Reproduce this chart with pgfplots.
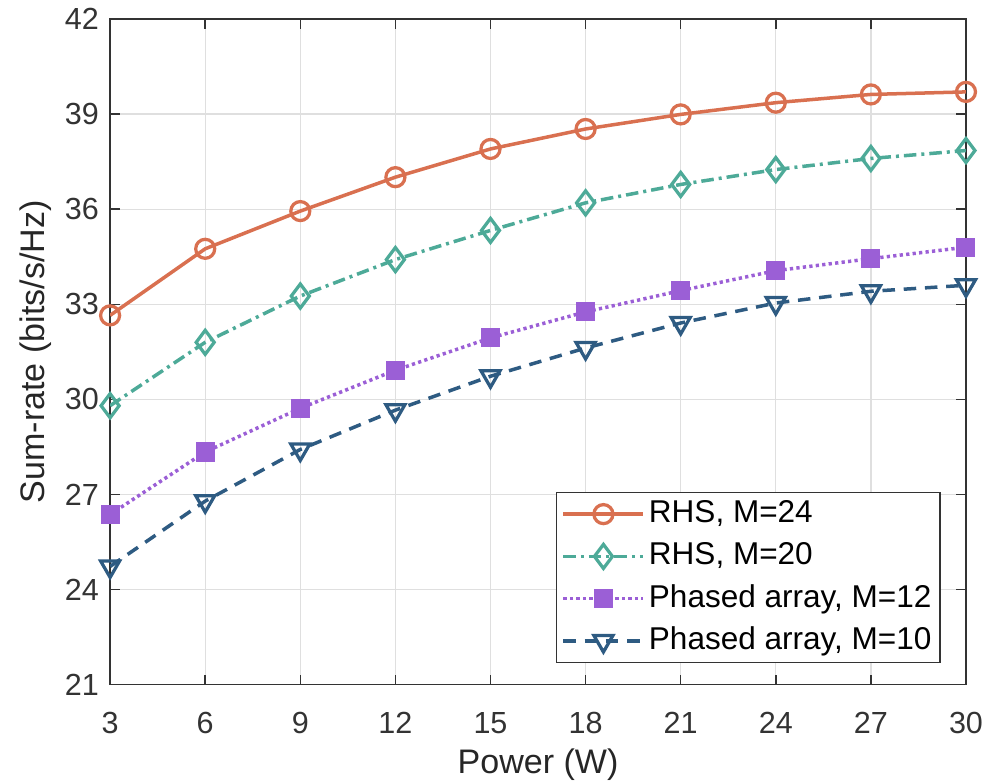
\documentclass[border=0pt]{standalone}
\usepackage{fontspec}
\setmainfont{Liberation Sans}
\usepackage{pgfplots}
\pgfplotsset{compat=1.18}

\definecolor{cOrange}{RGB}{217,112,80}
\definecolor{cTeal}{RGB}{77,170,152}
\definecolor{cPurple}{RGB}{155,95,214}
\definecolor{cNavy}{RGB}{46,91,130}

\begin{document}
\begin{tikzpicture}
\begin{axis}[
    scale only axis,
    width=342pt,
    height=266pt,
    xmin=3, xmax=30,
    ymin=21, ymax=42,
    xtick={3,6,...,30},
    ytick={21,24,...,42},
    tick align=inside,
    major tick length=4pt,
    grid=major,
    grid style={line width=0.5pt, gray!25},
    axis line style={line width=0.6pt, black!80},
    tick style={line width=0.6pt, black!80},
    /pgf/number format/assume math mode=true,
    tick label style={font=\fontsize{12.2}{14}\selectfont, text=black!80},
    xticklabel style={yshift=-7.4pt},
    yticklabel style={xshift=-1pt},
    xlabel={Power (W)},
    ylabel={Sum-rate (bits/s/Hz)},
    label style={font=\fontsize{13.6}{15}\selectfont, text=black!85},
    xlabel style={inner sep=0pt, yshift=-2.6pt},
    ylabel style={yshift=-1.5pt},
    legend cell align=left,
    legend style={
        at={(rel axis cs:1,0)}, anchor=south east,
        xshift=-10pt, yshift=8.5pt,
        font=\fontsize{12.6}{14}\selectfont,
        draw=black!80, line width=0.6pt,
        row sep=1.6pt,
        inner xsep=2pt, inner ysep=1pt,
        nodes={inner sep=1.5pt, text height=9.5pt, text depth=2.8pt},
    },
    legend image code/.code={%
        \draw[mark repeat=2, mark phase=2, #1]
            plot coordinates {(0pt,0pt) (16pt,0pt) (32pt,0pt)};},
]
\addplot[cOrange, line width=1.4pt, mark=o,
    mark options={solid, line width=1.3pt, scale=1.9}] coordinates {
    (3,32.65) (6,34.75) (9,35.94) (12,37.01) (15,37.90)
    (18,38.53) (21,38.99) (24,39.36) (27,39.62) (30,39.70)
};
\addlegendentry{RHS, M=24}
\addplot[cTeal, line width=1.4pt, dash pattern=on 5pt off 2pt on 1.2pt off 2pt,
    mark=diamond, mark options={solid, line width=1.3pt, scale=2.4}] coordinates {
    (3,29.80) (6,31.80) (9,33.26) (12,34.41) (15,35.33)
    (18,36.20) (21,36.78) (24,37.25) (27,37.60) (30,37.85)
};
\addlegendentry{RHS, M=20}
\addplot[cPurple, line width=1.4pt, dash pattern=on 1.3pt off 1.3pt,
    mark=square*, mark options={solid, line width=0.8pt, scale=1.7}] coordinates {
    (3,26.37) (6,28.34) (9,29.72) (12,30.92) (15,31.94)
    (18,32.76) (21,33.43) (24,34.06) (27,34.44) (30,34.80)
};
\addlegendentry{Phased array, M=12}
\addplot[cNavy, line width=1.4pt, dash pattern=on 5pt off 3.5pt,
    mark=triangle, mark options={solid, line width=1.3pt, scale=2.2, rotate=180}] coordinates {
    (3,24.73) (6,26.79) (9,28.42) (12,29.66) (15,30.73)
    (18,31.62) (21,32.41) (24,33.04) (27,33.41) (30,33.60)
};
\addlegendentry{Phased array, M=10}
\end{axis}
% white margins round the axis, as in the reference
\path (current axis.south west) ++(-44pt,-39.6pt);
\path (current axis.north east) ++(14pt,6.7pt);
\end{tikzpicture}
\end{document}
